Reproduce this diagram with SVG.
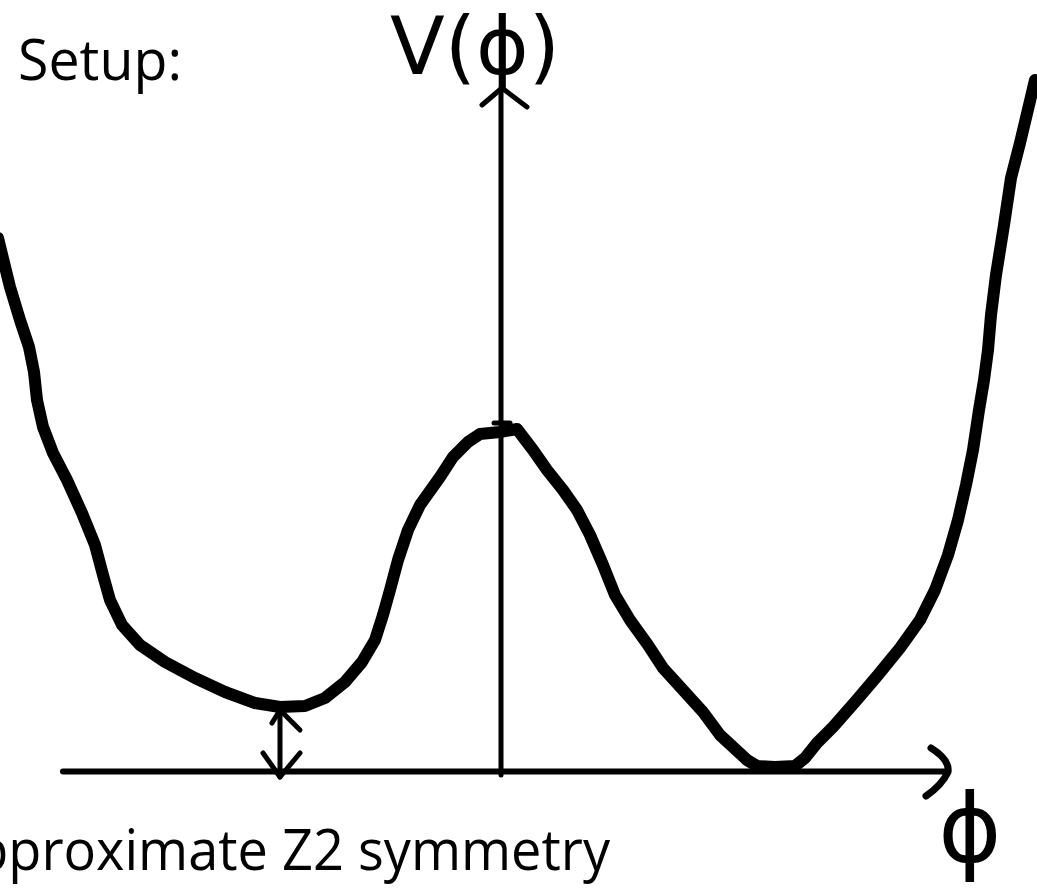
<svg xmlns="http://www.w3.org/2000/svg" width="1037" height="888" viewBox="0 0 1037 888">
  <style>
    .ink { fill: none; stroke: #000; stroke-linecap: round; stroke-linejoin: round; }
    .txt { font-family: "Open Sans", "Liberation Sans", sans-serif; fill: #000; }
    .hand { font-family: "DejaVu Sans", "Liberation Sans", sans-serif; fill: #000; }
  </style>
  <rect width="1037" height="888" fill="#fff"/>
  <g id="title">
    <text class="txt" x="18" y="80" font-size="56" textLength="164" lengthAdjust="spacingAndGlyphs">Setup:</text>
  </g>
  <g id="axes">
    <path class="ink" stroke-width="5" d="M501,90 L501,775"/>
    <path class="ink" stroke-width="5" d="M482,105 L502,88 L527,107"/>
    <path class="ink" stroke-width="6" stroke-linecap="butt" d="M63,771.5 L946,771.5"/>
    <path class="ink" stroke-width="7" d="M931,748 Q950,760 948,772 Q942,785 926,796"/>
    <path class="ink" stroke-width="5" d="M494,423 L510,423"/>
  </g>
  <g id="potential">
    <path class="ink" stroke-width="12" d="M-2,238 L10,287 L20,320 L29,347 L34,372 L37,400 L43,427 L53,453 L67,480 L82,513 L95,545 L103,575 L110,600 L122,625 L140,645 L165,662 L195,678 L225,692 L255,703 L280,707 L305,706 L325,698 L345,682 L362,662 L375,640 L383,615 L390,590 L398,560 L408,530 L420,505 L440,477 L453,457 L468,442 L480,434 L500,432 L517,429 L533,450 L547,470 L563,490 L577,510 L590,535 L603,565 L615,595 L630,620 L648,645 L663,668 L683,690 L703,712 L720,735 L733,747 L747,760 L757,766 L775,767 L795,766 L805,758 L817,743 L833,727 L855,702 L878,675 L900,648 L920,620 L935,590 L948,555 L958,520 L966,485 L973,450 L979,410 L984,380 L988,350 L991,315 L996,275 L1004,225 L1011,178 L1020,143 L1035,80"/>
  </g>
  <g id="gap-arrow">
    <path class="ink" stroke-width="5" d="M280,710 L280,777"/>
    <path class="ink" stroke-width="5" d="M272,723 L280,710 L300,730"/>
    <path class="ink" stroke-width="5" d="M263,753 L280,777 L300,753"/>
  </g>
  <g id="labels">
    <text class="hand" x="475" y="74" font-size="80" text-anchor="middle">V(ϕ)</text>
    <text class="hand" x="970" y="862" font-size="96" text-anchor="middle">ϕ</text>
    <text class="txt" x="-59" y="870" font-size="57" textLength="669" lengthAdjust="spacingAndGlyphs">Approximate Z2 symmetry</text>
  </g>
</svg>
